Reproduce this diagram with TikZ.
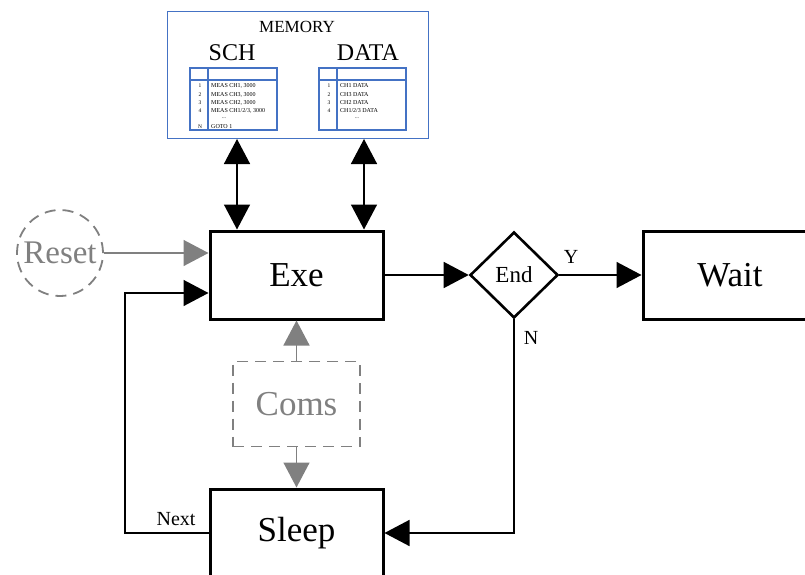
\documentclass[tikz,border=0pt]{standalone}
\usepackage{fontspec}
\setmainfont{Liberation Serif}
\usetikzlibrary{arrows.meta,shapes.geometric}
\definecolor{memblue}{RGB}{68,114,196}
\definecolor{fgray}{RGB}{128,128,128}
\begin{document}
\begin{tikzpicture}[x=1pt,y=-1pt,
  statebox/.style={draw=black,line width=3pt,minimum width=173pt,minimum height=88pt,inner sep=0pt,font=\fontsize{35}{37}\selectfont},
  flow/.style={draw=black,line width=1.5pt,-{Triangle[length=25pt,width=26pt]}},
  dflow/.style={draw=black,line width=1.5pt,{Triangle[length=25pt,width=26pt]}-{Triangle[length=25pt,width=26pt]}},
  gflow/.style={draw=fgray,line width=1.5pt,-{Triangle[length=25pt,width=26pt]}},
  tline/.style={draw=memblue,line width=1.1pt},
  tnum/.style={font=\fontsize{5.5}{6}\selectfont,inner sep=0pt},
  ttxt/.style={font=\fontsize{6}{6.5}\selectfont,inner sep=0pt,anchor=west},
  lbl/.style={font=\fontsize{20}{22}\selectfont,inner sep=0pt}]
\useasboundingbox (0,0) rectangle (805,575);

% memory
\node[draw=memblue,line width=1pt,minimum width=261pt,minimum height=126pt,inner sep=0pt] (mem) at (297.5,75) {};
\node[font=\fontsize{17}{18}\selectfont,inner sep=0pt] (memt) at (297,27) {MEMORY};
\node[font=\fontsize{24}{26}\selectfont,inner sep=0pt] (sch) at (232,53) {SCH};
\node[font=\fontsize{24}{26}\selectfont,inner sep=0pt] (data) at (368,53) {DATA};
% SCH table
\draw[tline] (190,68) rectangle (277,130);
\draw[tline] (190,80) -- (277,80);
\draw[tline] (208,68) -- (208,130);
\node[tnum] at (200,86) {1}; \node[ttxt] at (211,86) {MEAS CH1, 3000};
\node[tnum] at (200,95) {2}; \node[ttxt] at (211,95) {MEAS CH3, 3000};
\node[tnum] at (200,103) {3}; \node[ttxt] at (211,103) {MEAS CH2, 3000};
\node[tnum] at (200,111) {4}; \node[ttxt] at (211,111) {MEAS CH1/2/3, 3000};
\node[tnum] at (224,118) {...};
\node[tnum] at (200,127) {N}; \node[ttxt] at (211,127) {GOTO 1};
% DATA table
\draw[tline] (319,68) rectangle (406,130);
\draw[tline] (319,80) -- (406,80);
\draw[tline] (337,68) -- (337,130);
\node[tnum] at (329,86) {1}; \node[ttxt] at (340,86) {CH1 DATA};
\node[tnum] at (329,95) {2}; \node[ttxt] at (340,95) {CH3 DATA};
\node[tnum] at (329,103) {3}; \node[ttxt] at (340,103) {CH2 DATA};
\node[tnum] at (329,111) {4}; \node[ttxt] at (340,111) {CH1/2/3 DATA};
\node[tnum] at (357,118) {...};

% states
\node[statebox] (exe) at (296.5,275) {Exe};
\node[statebox] (sleep) at (296.5,533) {Sleep};
\node[statebox,minimum width=174pt] (wait) at (730,275) {Wait};
\node[draw=black,line width=2.6pt,shape=diamond,minimum width=88pt,minimum height=86pt,inner sep=0pt,font=\fontsize{23}{25}\selectfont] (end) at (514,275) {End};
\node[draw=fgray,dash pattern=on 11pt off 7pt,line width=1.8pt,circle,minimum size=86pt,inner sep=0pt,text=fgray,font=\fontsize{33}{35}\selectfont] (reset) at (60,253) {Reset};
\node[draw=fgray,dash pattern=on 11pt off 7pt,line width=1.8pt,minimum width=127pt,minimum height=85pt,inner sep=0pt,text=fgray,font=\fontsize{35}{37}\selectfont] (coms) at (296.5,404) {Coms};

% coordinates for memory arrows
\coordinate (ma) at (237,139);
\coordinate (mb) at (364,139);

% connectors
\draw[dflow] (ma) -- (ma |- exe.north);
\draw[dflow] (mb) -- (mb |- exe.north);
\draw[gflow] (reset) -- (exe.west |- reset);
\draw[gflow] (coms.north) -- (exe.south);
\draw[gflow] (coms.south) -- (sleep.north);
\draw[flow] (exe.east) -- (end.west);
\draw[flow] (end.east) -- (wait.west);
\draw[flow] (end.south) |- (sleep.east);
\coordinate (nx) at (125,533);
\draw[flow] (sleep.west) -- (nx) |- ([yshift=-18pt]exe.west);

% labels
\node[lbl] (ly) at (571,257) {Y};
\node[lbl] (ln) at (531,338) {N};
\node[lbl] (lnext) at (176,519) {Next};
\end{tikzpicture}
\end{document}
